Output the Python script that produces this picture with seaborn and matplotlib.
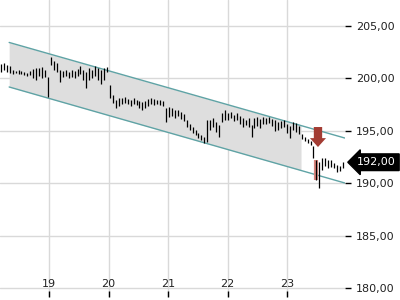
import numpy as np
import pandas as pd
import matplotlib
matplotlib.use("Agg")
import matplotlib.pyplot as plt
import seaborn as sns
from matplotlib.patches import FancyArrow
import matplotlib.transforms as mtransforms

# ---------------- data ----------------
bar_highs = [201.37, 201.47, 201.28, 201.18, 200.80, 200.71, 200.80, 200.71, 200.61, 200.51,
             200.71, 200.90, 200.99, 200.99, 201.09, 200.80, 200.13, 202.04, 201.66, 201.47,
             200.80, 200.71, 200.80, 200.61, 200.80, 200.71, 200.90, 201.18, 200.80, 200.61,
             200.99, 200.80, 201.18, 200.99, 200.80, 200.99, 201.09, 199.37, 198.42, 197.94,
             198.13, 198.13, 198.22, 198.03, 197.94, 198.13, 197.94, 197.84, 197.75, 197.84,
             198.03, 198.13, 198.03, 197.94, 197.94, 197.84, 197.18, 197.27, 197.18, 196.98,
             196.98, 196.79, 196.60, 196.03, 195.65, 195.36, 195.08, 194.79, 194.60, 194.41,
             196.03, 196.03, 196.22, 195.84, 195.55, 196.70, 196.98, 196.70, 196.79, 196.51,
             196.70, 196.41, 196.22, 196.03, 196.22, 195.55, 196.22, 196.32, 196.12, 196.32,
             196.22, 196.32, 196.12, 196.03, 195.84, 195.93, 196.03, 195.65, 195.46, 195.84,
             195.74, 195.46, 194.69, 194.41, 194.22, 194.02, 193.55, 192.21, 192.02, 192.40,
             192.40, 192.21, 192.21, 191.93, 191.74, 191.64, 192.02]
bar_lows = [200.61, 200.80, 200.61, 200.51, 200.42, 200.51, 200.42, 200.42, 200.32, 200.23,
            200.32, 200.04, 199.85, 200.23, 200.04, 200.13, 198.22, 201.28, 200.80, 200.61,
            199.66, 200.13, 200.23, 200.04, 200.13, 200.04, 200.23, 200.42, 199.85, 199.08,
            199.85, 200.04, 200.23, 199.85, 199.46, 199.85, 200.61, 198.13, 197.65, 197.18,
            197.37, 197.56, 197.65, 197.56, 197.37, 197.56, 197.46, 197.18, 196.98, 197.18,
            197.37, 197.56, 197.46, 197.56, 197.46, 197.37, 195.84, 196.32, 196.41, 196.22,
            196.41, 196.12, 195.93, 195.36, 195.08, 194.79, 194.60, 194.31, 194.12, 193.84,
            193.93, 195.08, 195.36, 194.88, 194.41, 195.84, 196.03, 196.03, 196.22, 195.93,
            196.03, 195.65, 195.36, 195.55, 195.36, 194.41, 195.27, 195.46, 195.27, 195.65,
            195.65, 195.74, 195.46, 194.98, 195.08, 195.27, 195.36, 194.79, 194.31, 195.08,
            194.88, 194.69, 194.22, 194.02, 193.84, 193.64, 192.40, 190.30, 189.54, 191.26,
            191.64, 191.45, 191.55, 191.45, 191.07, 191.16, 191.45]
time_start, time_end = 18.19, 23.94      # day units (18..23)
highlight_bar = 107                      # index of the red highlighted bar

channel_x = [18.33, 23.97]
channel_upper = [203.43, 194.31]
channel_lower = [199.18, 190.02]
channel_fill_end = 23.235

arrow_x, arrow_top, arrow_tip = 23.52, 195.36, 193.45

last_price = 192.00
x_ticks = [19, 20, 21, 22, 23]
y_ticks = [180, 185, 190, 195, 200, 205]

# ---------------- plot ----------------
sns.set_style("white")
plt.rcParams["font.family"] = ["DejaVu Sans"]

fig = plt.figure(figsize=(4, 3), dpi=100)
ax = fig.add_axes([0, 0.01, 0.8625, 0.99])

times = np.linspace(time_start, time_end, len(bar_highs))
df = pd.DataFrame({"t": times, "high": bar_highs, "low": bar_lows})

# channel fill
fx = np.array([channel_x[0], channel_fill_end])
fu = np.interp(fx, channel_x, channel_upper)
fl = np.interp(fx, channel_x, channel_lower)
ax.fill_between(fx, fl, fu, color="#dedede", zorder=1, lw=0)

# channel lines
ch = pd.DataFrame({"x": channel_x * 2,
                   "y": channel_upper + channel_lower,
                   "line": ["upper"] * 2 + ["lower"] * 2})
sns.lineplot(data=ch, x="x", y="y", units="line", estimator=None,
             color="#5fa3a5", lw=1, ax=ax, zorder=3, legend=False)

# highlighted bar
hb = df.iloc[highlight_bar]
ax.vlines(hb.t, hb.low, hb.high, color="#d9847c", lw=3, zorder=4)

# price bars
ax.vlines(df.t, df.low, df.high, color="black", lw=0.9, zorder=5)

# red arrow
ax.add_patch(FancyArrow(arrow_x, arrow_top, 0, arrow_tip - arrow_top,
                        width=0.14, head_width=0.27, head_length=0.85,
                        length_includes_head=True, color="#a33c33", lw=0, zorder=6))

ax.set_xlim(18.176, 23.974)
ax.set_ylim(179.14, 207.48)
ax.set_xticks(x_ticks)
ax.set_yticks(y_ticks)
ax.set_xticklabels([str(v) for v in x_ticks])
ax.set_yticklabels([f"{v:.2f}".replace(".", ",") for v in y_ticks])
ax.grid(True, color="#d9d9d9", lw=1, zorder=0)
ax.set_axisbelow(True)
for s in ax.spines.values():
    s.set_visible(False)
ax.yaxis.tick_right()
ax.tick_params(axis="y", which="both", right=True, left=False, length=4, width=1,
               color="black", pad=4, labelsize=8, labelcolor="#222222")
ax.tick_params(axis="x", which="both", bottom=True, direction="in", length=4,
               width=1, color="black", pad=-13, labelsize=8, labelcolor="#222222")
ax.set_xlabel("")
ax.set_ylabel("")

# last price label
trans = mtransforms.blended_transform_factory(ax.transAxes, ax.transData)
ax.text(1.035, last_price, f"{last_price:.2f}".replace(".", ","), transform=trans,
        color="white", fontsize=8, va="center", ha="left", zorder=10,
        bbox=dict(boxstyle="larrow,pad=0.3", fc="black", ec="black"), clip_on=False)

fig.savefig("out.png", dpi=100)
